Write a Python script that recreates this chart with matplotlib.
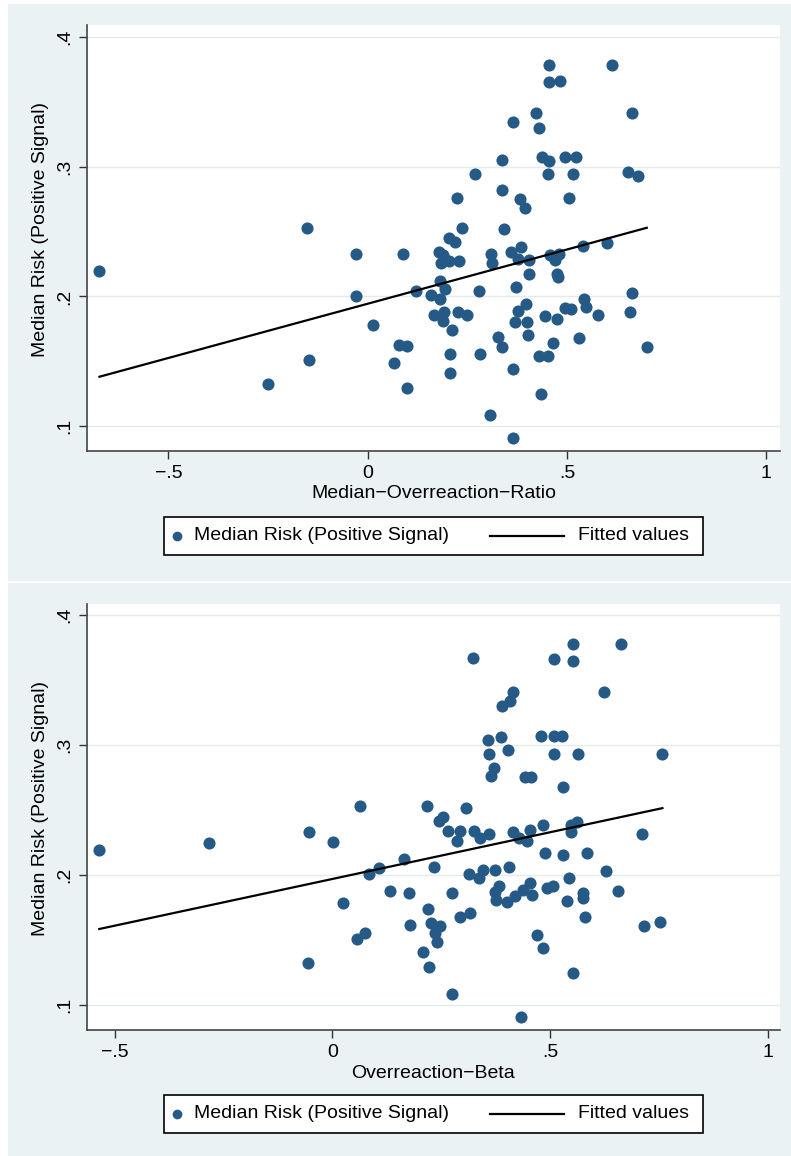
import matplotlib.pyplot as plt
from matplotlib.patches import Rectangle
from matplotlib.lines import Line2D
import numpy as np

plt.rcParams['font.family'] = ['Liberation Sans', 'DejaVu Sans']

# Top panel: median overreaction ratio vs median risk.
ratio_x = [0.454, 0.614, 0.455, 0.482, 0.422, 0.664, 0.364, 0.430, 0.338, 0.438,
           0.454, 0.496, 0.523, 0.270, 0.453, 0.516, 0.654, 0.679, 0.337, 0.223,
           0.383, 0.504, 0.395, -0.153, 0.236, 0.343, 0.205, 0.220, -0.029, 0.089,
           0.180, 0.188, 0.310, 0.359, 0.385, 0.601, 0.540, 0.457, 0.481, 0.471,
           0.183, 0.204, 0.229, 0.312, 0.377, 0.405, 0.405, 0.475, 0.477, 0.181,
           0.121, 0.193, 0.278, 0.371, -0.029, 0.158, 0.181, 0.663, 0.397, 0.542,
           0.547, 0.496, 0.511, 0.377, 0.166, 0.191, 0.188, 0.226, 0.248, 0.445,
           0.475, 0.577, 0.659, 0.0125, 0.211, 0.369, 0.400, 0.402, 0.328, 0.338,
           0.531, 0.465, 0.700, 0.079, 0.098, -0.148, 0.066, 0.206, 0.281, 0.430,
           0.451, 0.206, 0.365, 0.099, 0.434, 0.307, 0.364, -0.673, -0.251]
ratio_y = [0.378, 0.378, 0.365, 0.366, 0.341, 0.341, 0.334, 0.330, 0.305, 0.307,
           0.304, 0.307, 0.307, 0.294, 0.294, 0.294, 0.296, 0.293, 0.282, 0.276,
           0.275, 0.276, 0.268, 0.253, 0.253, 0.252, 0.245, 0.242, 0.233, 0.233,
           0.234, 0.232, 0.233, 0.234, 0.238, 0.241, 0.239, 0.232, 0.233, 0.228,
           0.226, 0.227, 0.227, 0.226, 0.229, 0.228, 0.217, 0.217, 0.215, 0.212,
           0.204, 0.206, 0.204, 0.207, 0.2005, 0.201, 0.198, 0.203, 0.194, 0.198,
           0.192, 0.191, 0.190, 0.189, 0.186, 0.188, 0.181, 0.188, 0.186, 0.185,
           0.183, 0.186, 0.188, 0.178, 0.174, 0.180, 0.180, 0.1705, 0.1685, 0.161,
           0.168, 0.164, 0.161, 0.1626, 0.1616, 0.151, 0.149, 0.1557, 0.1557, 0.154,
           0.154, 0.1408, 0.144, 0.1295, 0.125, 0.109, 0.0908, 0.2198, 0.1328]

# Bottom panel: overreaction beta vs median risk.
beta_x = [-0.535, -0.284, -0.054, 0.002, 0.064, 0.218, 0.307, 0.324, 0.255, 0.244,
          0.265, 0.294, 0.286, 0.326, 0.165, 0.108, 0.085, 0.233, 0.132, 0.175,
          0.275, 0.024, 0.219, 0.293, 0.316, 0.179, 0.226, 0.247, 0.235, 0.240,
          0.056, 0.075, 0.209, 0.223, -0.055, 0.2755, 0.3146, 0.336, 0.552, 0.663,
          0.510, 0.552, 0.624, 0.414, 0.408, 0.390, 0.357, 0.388, 0.479, 0.509,
          0.527, 0.360, 0.404, 0.509, 0.564, 0.758, 0.372, 0.364, 0.443, 0.457,
          0.529, 0.338, 0.360, 0.414, 0.428, 0.448, 0.454, 0.484, 0.547, 0.549,
          0.5625, 0.711, 0.4876, 0.529, 0.5855, 0.347, 0.374, 0.406, 0.628, 0.544,
          0.383, 0.373, 0.377, 0.402, 0.420, 0.437, 0.454, 0.458, 0.492, 0.507,
          0.538, 0.576, 0.576, 0.657, 0.581, 0.7156, 0.752, 0.471, 0.484, 0.552,
          0.433]
beta_y = [0.2198, 0.225, 0.233, 0.2255, 0.253, 0.253, 0.252, 0.367, 0.245, 0.2417,
          0.234, 0.234, 0.2267, 0.234, 0.2124, 0.2057, 0.2008, 0.2067, 0.188, 0.186,
          0.186, 0.1785, 0.174, 0.168, 0.171, 0.162, 0.163, 0.161, 0.1554, 0.149,
          0.151, 0.1554, 0.1408, 0.1297, 0.1328, 0.109, 0.201, 0.198, 0.378, 0.378,
          0.366, 0.365, 0.341, 0.341, 0.334, 0.330, 0.3037, 0.306, 0.307, 0.307,
          0.307, 0.2935, 0.296, 0.2935, 0.2935, 0.2935, 0.2825, 0.276, 0.2755, 0.2755,
          0.268, 0.2288, 0.2316, 0.233, 0.2283, 0.2267, 0.235, 0.2386, 0.233, 0.2386,
          0.241, 0.2316, 0.2175, 0.2157, 0.2175, 0.204, 0.204, 0.2065, 0.203, 0.198,
          0.192, 0.1875, 0.181, 0.1795, 0.184, 0.189, 0.1944, 0.1847, 0.190, 0.192,
          0.180, 0.186, 0.1824, 0.188, 0.168, 0.161, 0.164, 0.1539, 0.1443, 0.1246,
          0.0908]

y_label = 'Median Risk (Positive Signal)'
x_labels = ['Median\u2212Overreaction\u2212Ratio', 'Overreaction\u2212Beta']
x_ticks = [-0.5, 0, 0.5, 1]
x_tick_labels = ['\u2212.5', '0', '.5', '1']
y_ticks = [0.1, 0.2, 0.3, 0.4]
y_tick_labels = ['.1', '.2', '.3', '.4']
legend_labels = ['Median Risk (Positive Signal)', 'Fitted values']

W, H = 791, 1156
bg = '#eaf2f3'
navy = '#245a85'

fig = plt.figure(figsize=(W / 100, H / 100), dpi=100)
fig.patch.set_facecolor('white')

# Pixel layouts (from the top of the image) for each panel.
panels = [
    dict(xs=ratio_x, ys=ratio_y, xlabel=x_labels[0], bg=(4, 580.5),
         ax=(86.7, 25, 780.3, 451), xlim=(-0.705, 1.035), leg=(517, 555)),
    dict(xs=beta_x, ys=beta_y, xlabel=x_labels[1], bg=(582.5, 1157),
         ax=(86.7, 603.5, 780.0, 1030), xlim=(-0.564, 1.028), leg=(1095, 1133)),
]

for p in panels:
    # Grey graph region.
    y0, y1 = p['bg']
    fig.patches.append(Rectangle((8 / W, 1 - y1 / H), 1 - 8 / W, (y1 - y0) / H,
                                 transform=fig.transFigure, facecolor=bg,
                                 edgecolor='none', zorder=-10))

    l, t, r, b = p['ax']
    ax = fig.add_axes([l / W, 1 - b / H, (r - l) / W, (b - t) / H])
    ax.set_facecolor('white')

    xs = np.array(p['xs'])
    ys = np.array(p['ys'])
    ax.scatter(xs, ys, s=76, color=navy, linewidths=0, zorder=3)

    # Linear fit over the observed x range.
    slope, intercept = np.polyfit(xs, ys, 1)
    fx = np.array([xs.min(), xs.max()])
    ax.plot(fx, intercept + slope * fx, color='black', lw=1.6, zorder=4)

    ax.set_xlim(p['xlim'])
    ax.set_ylim(0.081, 0.409)
    ax.set_xticks(x_ticks)
    ax.set_xticklabels(x_tick_labels, fontsize=14)
    ax.set_yticks(y_ticks)
    ax.set_yticklabels(y_tick_labels, fontsize=14, rotation=90, va='center')
    ax.tick_params(axis='both', length=6, width=1, color='#333333', pad=4)
    ax.grid(axis='y', color='#e2ecee', lw=1)
    ax.set_axisbelow(True)
    for side in ['top', 'right']:
        ax.spines[side].set_visible(False)
    for side in ['left', 'bottom']:
        ax.spines[side].set_color('#444444')
        ax.spines[side].set_linewidth(1.2)

    ax.set_xlabel(p['xlabel'], fontsize=14)
    ax.xaxis.set_label_coords(0.5, -(494 - 451) / (b - t), transform=ax.transAxes)
    ax.xaxis.label.set_va('center')
    ax.set_ylabel(y_label, fontsize=14)
    ax.yaxis.set_label_coords(-(l - 40.5) / (r - l), 0.52)
    ax.yaxis.label.set_va('center')

    # Legend box drawn like Stata's: marker, text, line, text in one row.
    ly0, ly1 = p['leg']
    cy = 1 - (ly0 + ly1) / 2 / H
    fig.patches.append(Rectangle((164 / W, 1 - ly1 / H), (703 - 164) / W,
                                 (ly1 - ly0) / H, transform=fig.transFigure,
                                 facecolor='white', edgecolor='black', lw=1.2,
                                 zorder=5))
    fig.lines.append(Line2D([177 / W], [cy], transform=fig.transFigure,
                            marker='o', markersize=7, color=navy, lw=0,
                            markeredgewidth=0, zorder=6))
    fig.text(194 / W, cy, legend_labels[0], fontsize=14, va='center', zorder=6)
    fig.lines.append(Line2D([490 / W, 564 / W], [cy, cy], transform=fig.transFigure,
                            color='black', lw=1.6, zorder=6))
    fig.text(578 / W, cy, legend_labels[1], fontsize=14, va='center', zorder=6)

fig.savefig('out.png', dpi=100, facecolor=fig.get_facecolor())
